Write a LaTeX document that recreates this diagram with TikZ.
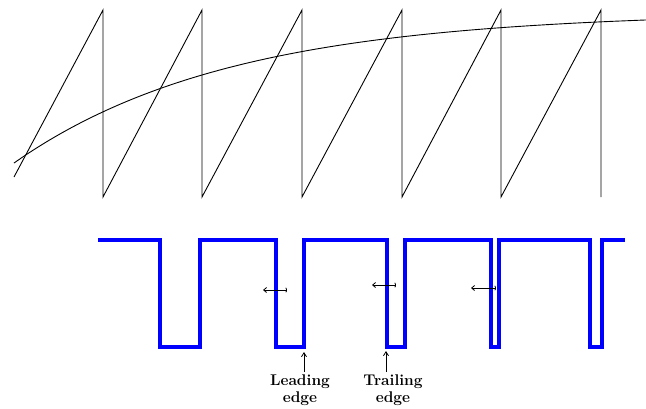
\documentclass[tikz,border=0pt]{standalone}
\usepackage{tikz}
\usepackage{amsmath}
\usepackage{xcolor}
\usetikzlibrary{arrows.meta}

\begin{document}
\begin{tikzpicture}[x=1pt,y=-1pt,
        saw/.style={line width=0.9pt},
        pulse/.style={blue,line width=4pt,line join=miter},
        lbl/.style={font=\fontsize{15.5}{17}\selectfont\bfseries,align=center,inner sep=0pt,anchor=north},
        pointer/.style={line width=0.8pt,-{Straight Barb[length=4pt,width=5pt]},shorten <=3pt},
        gap/.style={line width=0.8pt,{Straight Barb[length=3pt,width=5pt]}-{Parenthesis[width=6pt,length=2pt]}}]
        \useasboundingbox (0,0) rectangle (646,408);
        \draw[saw] (14,177) -- (103,10) -- (103,197) -- (202,10) -- (202,197) -- (302,10) -- (302,197)
                -- (402,10) -- (402,197) -- (501,10) -- (501,197) -- (601,10) -- (601,197);
        \draw[saw] plot[domain=14:646,samples=90] (\x,{12+151*exp(-(\x-14)/215)});
        \draw[pulse] (98,240) -- (160,240) -- (160,347) -- (200,347) -- (200,240) -- (276,240)
                -- (276,347) -- (304,347) -- (304,240) -- (387,240) -- (387,347) -- (405,347)
                -- (405,240) -- (491,240) -- (491,347) -- (499,347) -- (499,240) -- (590,240)
                -- (590,347) -- (602,347) -- (602,240) -- (625,240);
        \coordinate(le) at (304,352);
        \coordinate(te) at (386,351);
        \node[lbl](lead) at (300,375) {Leading\\edge};
        \node[lbl](trail) at (393,375) {Trailing\\edge};
        \draw[pointer](lead.north -| le)--(le);
        \draw[pointer](trail.north -| te)--(te);
        \coordinate(a) at (263,290);
        \coordinate(b) at (287,290);
        \coordinate(c) at (372,285);
        \coordinate(d) at (396,285);
        \coordinate(e) at (471,288);
        \coordinate(f) at (496,288);
        \draw[gap](a)--(b);
        \draw[gap](c)--(d);
        \draw[gap](e)--(f);
        \end{tikzpicture}
\end{document}
